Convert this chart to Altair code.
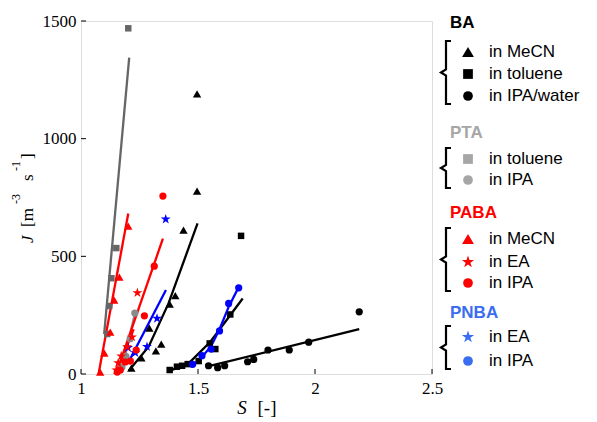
import altair as alt
import pandas as pd

# ---------------- data ----------------
# BA in MeCN (black triangles)
ba_mecn_S = [1.496, 1.496, 1.438, 1.403, 1.379, 1.343, 1.320, 1.292, 1.258, 1.215]
ba_mecn_J = [1190, 777, 611, 333, 297, 127, 98, 195, 68, 25]
ba_mecn_fitS = [1.205, 1.289, 1.374, 1.498]
ba_mecn_fitJ = [15, 116, 300, 640]

# BA in toluene (black squares)
ba_tol_S = [1.379, 1.410, 1.432, 1.456, 1.503, 1.550, 1.574, 1.638, 1.684]
ba_tol_J = [17, 31, 35, 42, 55, 130, 106, 253, 587]
ba_tol_fitS = [1.370, 1.460, 1.553, 1.691]
ba_tol_fitJ = [10, 45, 137, 321]

# BA in IPA/water (black circles)
ba_ipa_S = [1.545, 1.584, 1.614, 1.712, 1.738, 1.799, 1.890, 1.973, 2.189]
ba_ipa_J = [35, 27, 35, 52, 62, 102, 102, 135, 264]
ba_ipa_fitS = [1.538, 2.189]
ba_ipa_fitJ = [31, 191]

# PTA in toluene (grey squares)
pta_tol_S = [1.112, 1.121, 1.130, 1.151, 1.202]
pta_tol_J = [170, 289, 407, 535, 1469]
pta_tol_fitS = [1.099, 1.206]
pta_tol_fitJ = [170, 1344]

# PTA in IPA (grey circles)
pta_ipa_S = [1.230, 1.210, 1.192, 1.175]
pta_ipa_J = [259, 150, 75, 30]
pta_ipa_fitS = [1.180, 1.230]
pta_ipa_fitJ = [40, 255]

# PABA in MeCN (red triangles)
paba_mecn_S = [1.202, 1.164, 1.142, 1.125, 1.100, 1.082]
paba_mecn_J = [628, 412, 314, 178, 89, 8]
paba_mecn_fitS = [1.075, 1.202]
paba_mecn_fitJ = [0, 682]

# PABA in EA (red stars)
paba_ea_S = [1.241, 1.218, 1.197, 1.172, 1.159, 1.151]
paba_ea_J = [345, 157, 115, 76, 47, 17]
paba_ea_fitS = [1.150, 1.225]
paba_ea_fitJ = [5, 190]

# PABA in IPA (red circles)
paba_ipa_S = [1.350, 1.313, 1.271, 1.236, 1.211, 1.189, 1.168, 1.155]
paba_ipa_J = [756, 458, 247, 102, 55, 51, 17, 8]
paba_ipa_fitS = [1.153, 1.350]
paba_ipa_fitJ = [10, 575]

# PNBA in EA (blue stars)
pnba_ea_S = [1.362, 1.325, 1.282, 1.232, 1.201]
pnba_ea_J = [658, 236, 116, 90, 112]
pnba_ea_fitS = [1.200, 1.363]
pnba_ea_fitJ = [45, 357]

# PNBA in IPA (blue circles)
pnba_ipa_S = [1.477, 1.517, 1.556, 1.592, 1.631, 1.674]
pnba_ipa_J = [41, 78, 106, 183, 300, 366]
pnba_ipa_fitS = [1.470, 1.517, 1.556, 1.592, 1.631, 1.674]
pnba_ipa_fitJ = [30, 72, 118, 190, 285, 370]

x_ticks = [1, 1.5, 2, 2.5]
y_ticks = [0, 500, 1000, 1500]

# ---------------- styles ----------------
STAR = ("M0,-1L0.2245,-0.309L0.951,-0.309L0.363,0.118L0.588,0.809L0,0.382"
        "L-0.588,0.809L-0.363,0.118L-0.951,-0.309L-0.2245,-0.309Z")
BLACK, GREY_D, GREY_L, RED, BLUE = "#000000", "#666666", "#8a8a8a", "#ff0000", "#0000ff"
SIZES = {"triangle-up": 70, "square": 42, "circle": 52, STAR: 110}

series = [
    ("BA MeCN", ba_mecn_S, ba_mecn_J, ba_mecn_fitS, ba_mecn_fitJ, "triangle-up", BLACK),
    ("BA tol", ba_tol_S, ba_tol_J, ba_tol_fitS, ba_tol_fitJ, "square", BLACK),
    ("BA ipa", ba_ipa_S, ba_ipa_J, ba_ipa_fitS, ba_ipa_fitJ, "circle", BLACK),
    ("PTA tol", pta_tol_S, pta_tol_J, pta_tol_fitS, pta_tol_fitJ, "square", GREY_D),
    ("PTA ipa", pta_ipa_S, pta_ipa_J, pta_ipa_fitS, pta_ipa_fitJ, "circle", GREY_L),
    ("PNBA ea", pnba_ea_S, pnba_ea_J, pnba_ea_fitS, pnba_ea_fitJ, STAR, BLUE),
    ("PNBA ipa", pnba_ipa_S, pnba_ipa_J, pnba_ipa_fitS, pnba_ipa_fitJ, "circle", BLUE),
    ("PABA MeCN", paba_mecn_S, paba_mecn_J, paba_mecn_fitS, paba_mecn_fitJ, "triangle-up", RED),
    ("PABA ea", paba_ea_S, paba_ea_J, paba_ea_fitS, paba_ea_fitJ, STAR, RED),
    ("PABA ipa", paba_ipa_S, paba_ipa_J, paba_ipa_fitS, paba_ipa_fitJ, "circle", RED),
]

pts, lns = [], []
for k, (name, S, J, fS, fJ, shp, col) in enumerate(series):
    for s, j in zip(S, J):
        pts.append({"S": s, "J": j, "shape": shp, "color": col, "size": SIZES[shp], "k": k})
    for i, (s, j) in enumerate(zip(fS, fJ)):
        lns.append({"S": s, "J": j, "series": name, "color": col, "i": i})
pts = pd.DataFrame(pts)
lns = pd.DataFrame(lns)

W, H = 351, 353
xs = alt.Scale(domain=[1, 2.5], nice=False, zero=False)
ys = alt.Scale(domain=[0, 1500], nice=False, zero=False)
SERIF = "Liberation Serif"
SANS = "Liberation Sans"

xaxis = alt.Axis(values=x_ticks, format="~g", title=None, grid=False, ticks=False, tickSize=0,
                 domain=False, labelFont=SERIF, labelFontSize=17, labelColor="black",
                 labelPadding=6, labelFlush=False)
yaxis = alt.Axis(values=y_ticks, format="d", title=None, grid=False, ticks=False, tickSize=0,
                 domain=False, labelFont=SERIF, labelFontSize=17, labelColor="black",
                 labelPadding=5, labelFlush=False)

def X():
    return alt.X("S:Q", scale=xs, axis=xaxis)

def Y():
    return alt.Y("J:Q", scale=ys, axis=yaxis)

lines = alt.Chart(lns).mark_line(strokeWidth=2.3).encode(
    x=X(), y=Y(), detail="series:N", order="i:Q",
    color=alt.Color("color:N", scale=None))

points = alt.Chart(pts).mark_point(filled=True, opacity=1, strokeWidth=0).encode(
    x=X(), y=Y(),
    shape=alt.Shape("shape:N", scale=None),
    color=alt.Color("color:N", scale=None),
    size=alt.Size("size:Q", scale=None),
    order="k:Q")

xt = alt.Chart(pd.DataFrame({"S": x_ticks})).mark_rule(color="black", strokeWidth=1).encode(
    x=X(), y=alt.value(H), y2=alt.value(H - 5))
yt = alt.Chart(pd.DataFrame({"J": y_ticks})).mark_rule(color="black", strokeWidth=1).encode(
    y=Y(), x=alt.value(0), x2=alt.value(5))

data_layer = alt.layer(lines, points, xt, yt)

# ---------------- legend / titles (pixel layout) ----------------
LEG_BLUE = "#3a6df0"
LEG_GREY = "#a6a6a6"
groups = [
    ("BA", BLACK, 2, [31, 53, 75], [("triangle-up", "in MeCN"), ("square", "in toluene"), ("circle", "in IPA/water")]),
    ("PTA", LEG_GREY, 112, [138, 159], [("square", "in toluene"), ("circle", "in IPA")]),
    ("PABA", RED, 192, [218, 241, 262], [("triangle-up", "in MeCN"), (STAR, "in EA"), ("circle", "in IPA")]),
    ("PNBA", LEG_BLUE, 292, [316, 340], [(STAR, "in EA"), ("circle", "in IPA")]),
]
LSIZE = {"triangle-up": 140, "square": 95, "circle": 95, STAR: 170}
titles, items, syms, brk = [], [], [], []
for g, (title, col, ty, rows, entries) in enumerate(groups):
    titles.append({"x": 369, "y": ty, "t": title, "c": col})
    for ry, (shp, lab) in zip(rows, entries):
        items.append({"x": 408, "y": ry, "t": lab})
        syms.append({"x": 387, "y": ry, "shape": shp, "c": col, "s": LSIZE[shp]})
    top, bot = rows[0] - 11, rows[-1] + 8
    mid = (top + bot) / 2
    path = [(370, top), (365, top), (365, mid - 3), (360, mid), (365, mid + 3), (365, bot), (370, bot)]
    for i, (px, py) in enumerate(path):
        brk.append({"x": px, "y": py, "g": g, "i": i})

PX = lambda f: alt.X(f + ":Q", scale=None, axis=None)
PY = lambda f: alt.Y(f + ":Q", scale=None, axis=None)

leg_titles = alt.Chart(pd.DataFrame(titles)).mark_text(
    font=SANS, fontSize=17, fontWeight="bold", align="left", baseline="middle").encode(
    x=PX("x"), y=PY("y"), text="t:N", color=alt.Color("c:N", scale=None))
leg_items = alt.Chart(pd.DataFrame(items)).mark_text(
    font=SANS, fontSize=17, align="left", baseline="middle", color="black").encode(
    x=PX("x"), y=PY("y"), text="t:N")
leg_syms = alt.Chart(pd.DataFrame(syms)).mark_point(filled=True, opacity=1, strokeWidth=0).encode(
    x=PX("x"), y=PY("y"), shape=alt.Shape("shape:N", scale=None),
    color=alt.Color("c:N", scale=None), size=alt.Size("s:Q", scale=None))
leg_brk = alt.Chart(pd.DataFrame(brk)).mark_line(
    color="black", strokeWidth=2.2, strokeJoin="miter", strokeCap="butt").encode(
    x=PX("x"), y=PY("y"), detail="g:N", order="i:Q")

# axis titles
yt_main = alt.Chart(pd.DataFrame({"x": [-53, -53, -53], "y": [206, 160, 138], "t": ["[m", "s", "]"]})).mark_text(
    font=SERIF, fontSize=17, angle=270, align="left", baseline="middle", color="black").encode(
    x=PX("x"), y=PY("y"), text="t:N")
yt_j = alt.Chart(pd.DataFrame({"x": [-53], "y": [222], "t": ["J"]})).mark_text(
    font=SERIF, fontSize=17, fontStyle="italic", angle=270, align="left", baseline="middle", color="black").encode(
    x=PX("x"), y=PY("y"), text="t:N")
yt_sup = alt.Chart(pd.DataFrame({"x": [-65, -65], "y": [183, 150], "t": ["-3", "-1"]})).mark_text(
    font=SERIF, fontSize=12, angle=270, align="left", baseline="middle", color="black").encode(
    x=PX("x"), y=PY("y"), text="t:N")
xt_s = alt.Chart(pd.DataFrame({"x": [161], "y": [393], "t": ["S"]})).mark_text(
    font=SERIF, fontSize=19, fontStyle="italic", align="center", baseline="alphabetic", color="black").encode(
    x=PX("x"), y=PY("y"), text="t:N")
xt_u = alt.Chart(pd.DataFrame({"x": [186], "y": [393], "t": ["[-]"]})).mark_text(
    font=SERIF, fontSize=19, align="center", baseline="alphabetic", color="black").encode(
    x=PX("x"), y=PY("y"), text="t:N")

deco = alt.layer(leg_brk, leg_syms, leg_titles, leg_items, yt_main, yt_j, yt_sup, xt_s, xt_u)

chart = alt.layer(data_layer, deco).resolve_scale(x="independent", y="independent").properties(
    width=W, height=H,
    autosize=alt.AutoSizeParams(type="none"),
    padding={"left": 73, "top": 13, "right": 157, "bottom": 45},
).configure_view(stroke="black", strokeWidth=1.2).configure(background="white")

chart.save("out.html", embed_options={"renderer": "svg", "actions": False})
